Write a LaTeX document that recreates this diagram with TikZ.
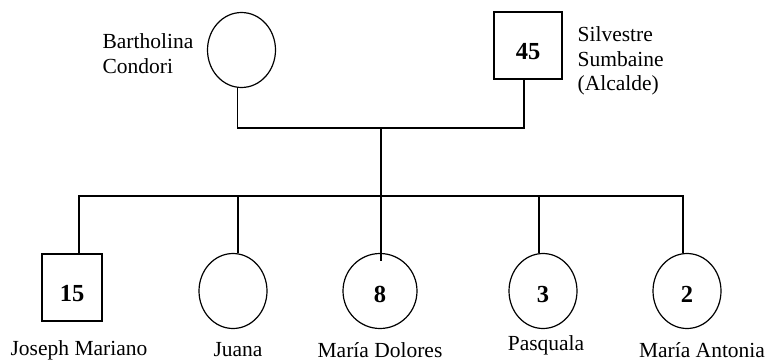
\documentclass[tikz,border=0pt]{standalone}
\usepackage{fontspec}
\setmainfont{Liberation Serif}
\usetikzlibrary{shapes.geometric}
\begin{document}
\begin{tikzpicture}[x=1pt,y=-1pt,line width=1.2pt,
  fem/.style={draw,ellipse,minimum width=68pt,minimum height=75pt,inner sep=0pt,font=\fontsize{24.5}{24}\selectfont\bfseries,text height=22pt,text depth=0pt},
  mal/.style={draw,rectangle,minimum width=#1,minimum height=67pt,inner sep=0pt,font=\fontsize{24.5}{24}\selectfont\bfseries,text height=28pt,text depth=0pt},
  lbl/.style={font=\fontsize{21.5}{24.5}\selectfont,inner sep=0pt},
  conn/.style={line width=1.2pt}]
\useasboundingbox (0,0) rectangle (767,361);
% parents
\node[fem] (mo) at (241.5,50) {};
\node[mal=68pt] (fa) at (528,45.5) {45};
\node[lbl,align=left,anchor=north west] (mol) at (102,33) {Bartholina\\Condori};
\node[lbl,align=left,anchor=north west] (fal) at (577,26) {Silvestre\\Sumbaine\\(Alcalde)};
% children
\node[mal=60pt] (c1) at (72,287.5) {15};
\node[fem] (c2) at (233,291) {};
\node[fem,minimum width=74pt] (c3) at (380,291) {8};
\node[fem] (c4) at (543,291) {3};
\node[fem] (c5) at (687,291) {2};
\node[lbl] (l1) at (79,350) {Joseph Mariano};
\node[lbl] (l2) at (238,350) {Juana};
\node[lbl] (l3) at (380,350) {María Dolores};
\node[lbl] (l4) at (546,345) {Pasquala};
\node[lbl] (l5) at (702,350) {María Antonia};
% junctions
\coordinate (pm) at (381,128);
\coordinate (sb) at (381,196);
\draw[conn] ([xshift=-4pt]mo.south) |- (pm) -| ([xshift=-4pt]fa.south);
\draw[conn] (pm) -- (sb) -- ([xshift=1pt,yshift=-8pt]c3.north);
\draw[conn] ([xshift=7pt]c1.north) |- (sb) -| ([xshift=-4pt]c5.north);
\draw[conn] ([xshift=5pt]c2.north) -- ([xshift=5pt]c2.north |- sb);
\draw[conn] ([xshift=-4pt]c4.north) -- ([xshift=-4pt]c4.north |- sb);
\end{tikzpicture}
\end{document}
